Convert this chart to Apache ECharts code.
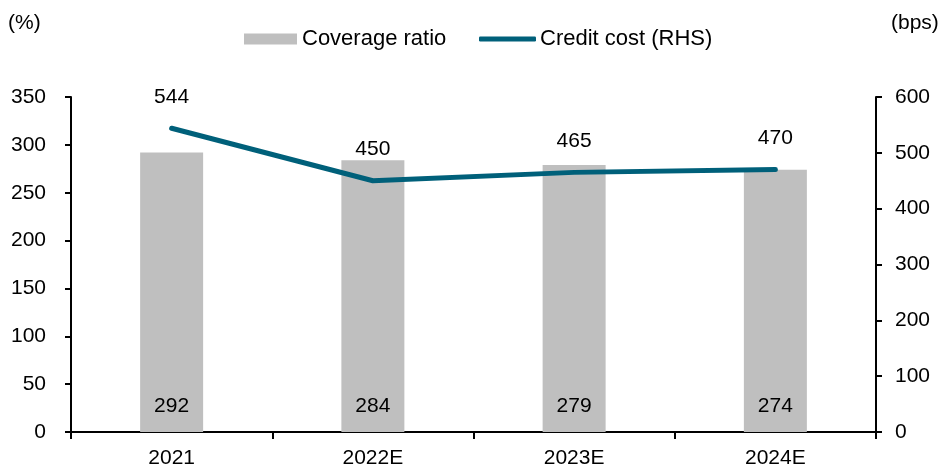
<!DOCTYPE html>
<html><head><meta charset="utf-8">
<script src="https://cdn.jsdelivr.net/npm/echarts@6/dist/echarts.min.js"></script>
<style>html,body{margin:0;padding:0;background:#fff}#c{width:942px;height:470px}</style>
</head><body><div id="c"></div>
<script>
const categories = ['2021', '2022E', '2023E', '2024E'];
const coverageRatio = [292, 284, 279, 274];
const creditCost = [544, 450, 465, 470];
const leftTicks = [0, 350, 50];
const rightTicks = [0, 600, 100];

const FONT = 'Liberation Sans, Arial, sans-serif';
const FS = 21;
const LINE = '#00607a';
const chart = echarts.init(document.getElementById('c'));
const axisCommon = {
  axisLine: {show: true, lineStyle: {color: '#000', width: 2}},
  axisTick: {show: true, length: 6, lineStyle: {color: '#000', width: 2}},
  splitLine: {show: false},
  axisLabel: {color: '#000', fontSize: FS, fontFamily: FONT}
};
chart.setOption({
  animation: false,
  textStyle: {fontFamily: FONT},
  title: [
    {text: '(%)', left: 3, top: 8, textStyle: {fontSize: FS, fontWeight: 'normal', color: '#000', fontFamily: FONT}},
    {text: '(bps)', left: 886, top: 8, textStyle: {fontSize: FS, fontWeight: 'normal', color: '#000', fontFamily: FONT}}
  ],
  legend: [
    {data: [{name: 'Coverage ratio', icon: 'rect'}], left: 239, top: 23, itemWidth: 53, itemHeight: 11, itemGap: 0,
     textStyle: {fontSize: 22, color: '#000', fontFamily: FONT, padding: [0, 0, 0, 0]}},
    {data: [{name: 'Credit cost (RHS)', icon: 'roundRect', itemStyle: {color: LINE}}], left: 474, top: 23, itemWidth: 57, itemHeight: 5, itemGap: 0,
     textStyle: {fontSize: 22, color: '#000', fontFamily: FONT, padding: [0, 0, 0, -1]}}
  ],
  grid: {left: 71, right: 66, top: 97, bottom: 38, containLabel: false},
  xAxis: {
    type: 'category', data: categories,
    axisLine: {show: true, lineStyle: {color: '#000', width: 2}},
    axisTick: {show: true, length: 7, alignWithLabel: false, lineStyle: {color: '#000', width: 2}},
    axisLabel: {color: '#000', fontSize: FS, fontFamily: FONT, margin: 16}
  },
  yAxis: [
    Object.assign({}, axisCommon, {type: 'value', min: leftTicks[0], max: leftTicks[1], interval: leftTicks[2], position: 'left',
      axisLabel: Object.assign({}, axisCommon.axisLabel, {margin: 25})}),
    Object.assign({}, axisCommon, {type: 'value', min: rightTicks[0], max: rightTicks[1], interval: rightTicks[2], position: 'right',
      axisLabel: Object.assign({}, axisCommon.axisLabel, {margin: 19})})
  ],
  series: [
    {name: 'Coverage ratio', type: 'bar', data: coverageRatio, yAxisIndex: 0, barWidth: 63,
     itemStyle: {color: '#bfbfbf'},
     label: {show: true, position: 'insideBottom', distance: 15, color: '#000', fontSize: FS, fontFamily: FONT}},
    {name: 'Credit cost (RHS)', type: 'line', data: creditCost, yAxisIndex: 1,
     symbol: 'circle', symbolSize: 2, showSymbol: true, itemStyle: {color: LINE},
     lineStyle: {color: LINE, width: 5, cap: 'round', join: 'round'},
     label: {show: true, position: 'top', distance: 20, color: '#000', fontSize: FS, fontFamily: FONT}}
  ]
});
</script></body></html>
